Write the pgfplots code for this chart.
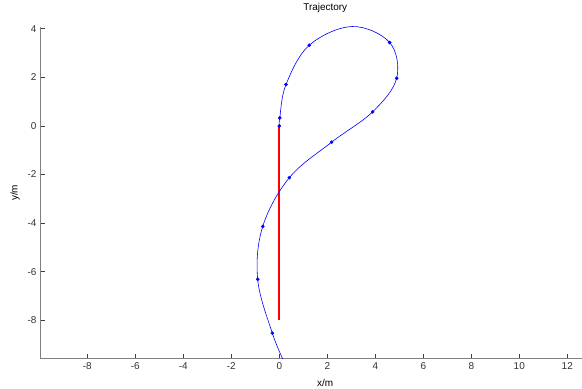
\documentclass[border=0pt]{standalone}
\usepackage{fontspec}
\setmainfont{Liberation Sans}
\usepackage{pgfplots}
\pgfplotsset{compat=1.18}
\definecolor{trajred}{RGB}{255,0,0}
\definecolor{trajblue}{RGB}{0,0,255}
\begin{document}
\begin{tikzpicture}
\path[use as bounding box] (-40bp,-30.3bp) rectangle (542bp,358.7bp);
\begin{axis}[
  at={(0,0)}, anchor=south west,
  x=24bp, y=24.3bp,
  xmin=-9.97, xmax=13.8, ymin=-9.58, ymax=4.08,
  axis x line*=bottom, axis y line*=left,
  axis line style={draw=black!50, line width=0.8bp},
  tick align=inside,
  major tick length=5bp,
  tick style={draw=black!75, line width=0.6bp},
  xtick={-8,-6,...,12}, ytick={-8,-6,...,4},
  minor tick num=0,
  /pgf/number format/assume math mode=true,
  tick label style={font=\fontsize{10}{12}\selectfont, text=black!80},
  title={Trajectory},
  title style={font=\fontsize{10}{12}\selectfont, at={(axis description cs:0.5,1)}, anchor=base, yshift=10bp},
  xlabel={x/m},
  xlabel style={font=\fontsize{10}{12}\selectfont, at={(axis description cs:0.5,0)}, anchor=base, yshift=-28bp},
  ylabel={y/m},
  ylabel style={font=\fontsize{10}{12}\selectfont, at={(axis description cs:-0.0438,0.5)}, anchor=center},
  clip=true,
]
\addplot+[draw=trajred, solid, line width=1.6bp, no marks] table[row sep=\\] {x y\\ 0 0\\ 0 -8\\};
\addplot[color=trajblue, line width=0.6bp, smooth, tension=0.6, mark=none] coordinates {
(0,0) (0.02,0.33) (0.28,1.70) (1.25,3.32) (3.03,4.09) (4.60,3.43) (4.89,1.96)
(3.89,0.58) (2.18,-0.67) (0.42,-2.13) (-0.69,-4.14) (-0.90,-6.31) (-0.29,-8.53) (0.22,-9.75)
};
\addplot[only marks, mark=*, mark size=1.6bp, mark options={draw=trajblue, fill=trajblue}] coordinates {
(0,0) (0.02,0.33) (0.28,1.70) (1.25,3.32) (3.03,4.09) (4.60,3.43) (4.89,1.96)
(3.89,0.58) (2.18,-0.67) (0.42,-2.13) (-0.69,-4.14) (-0.90,-6.31) (-0.29,-8.53)
};
\end{axis}
\end{tikzpicture}
\end{document}
